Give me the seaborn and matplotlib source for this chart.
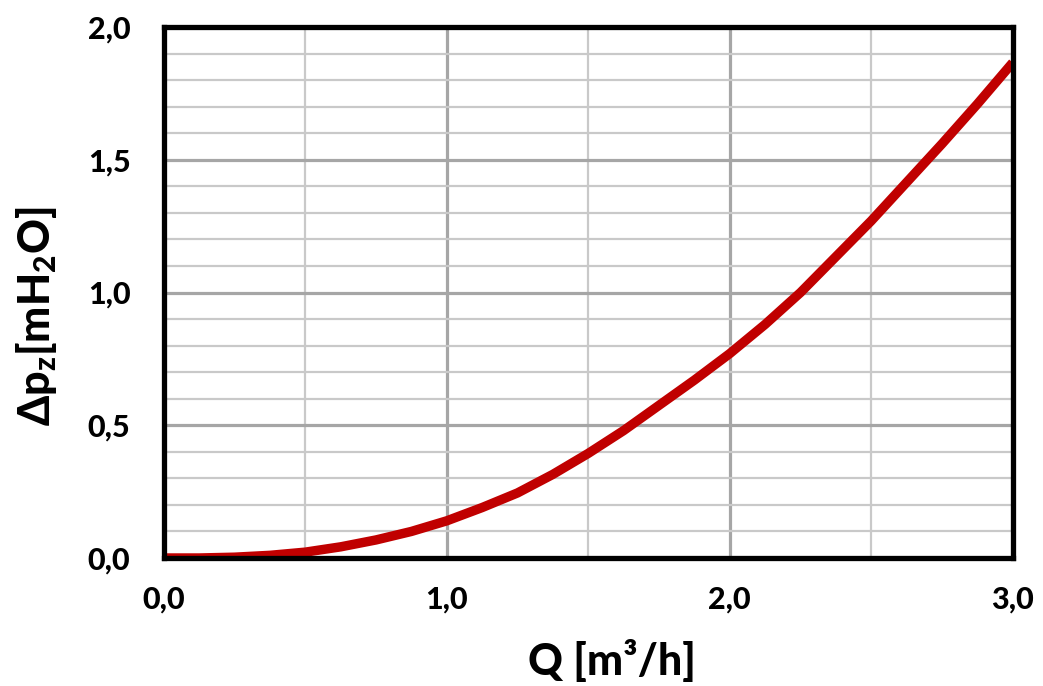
"""
Pressure drop curve: Δp_z vs flow rate Q (Excel-style chart look).
"""

import pandas as pd
import matplotlib
matplotlib.use("Agg")
import matplotlib.pyplot as plt
import seaborn as sns
from matplotlib.ticker import MultipleLocator, FuncFormatter

# Values
flow_q = [0.0, 0.125, 0.25, 0.375, 0.5, 0.625, 0.75, 0.875, 1.0, 1.125, 1.25,
          1.375, 1.5, 1.625, 1.75, 1.875, 2.0, 2.125, 2.25, 2.375, 2.5,
          2.625, 2.75, 2.875, 3.0]
dp_z = [0.0, 0.0, 0.003, 0.01, 0.022, 0.042, 0.068, 0.1, 0.14, 0.19, 0.245,
        0.315, 0.394, 0.48, 0.575, 0.67, 0.77, 0.88, 1.0, 1.135, 1.27,
        1.415, 1.56, 1.71, 1.866]

sns.set_theme(style="white")
plt.rcParams.update({
    "font.family": ["Lato", "DejaVu Sans"],
    "text.color": "black",
    "axes.labelcolor": "black",
    "xtick.color": "black",
    "ytick.color": "black",
    "mathtext.fontset": "custom",
    "mathtext.rm": "Lato:black",
    "mathtext.it": "Lato:black",
    "mathtext.bf": "Lato:black",
})

df = pd.DataFrame({"Q": flow_q, "dp": dp_z})

fig = plt.figure(figsize=(10.43, 6.86), dpi=100)
ax = fig.add_axes([0.157, 0.1866, 0.814, 0.774])

sns.lineplot(data=df, x="Q", y="dp", ax=ax, color="#C00000", linewidth=6.8,
             solid_capstyle="butt", solid_joinstyle="round", zorder=3)

ax.set_xlim(0, 3)
ax.set_ylim(0, 2)

# gridlines: darker major, lighter minor
ax.xaxis.set_major_locator(MultipleLocator(1.0))
ax.xaxis.set_minor_locator(MultipleLocator(0.5))
ax.yaxis.set_major_locator(MultipleLocator(0.5))
ax.yaxis.set_minor_locator(MultipleLocator(0.1))
ax.grid(which="major", color="#A6A6A6", linewidth=2.3, zorder=1)
ax.grid(which="minor", color="#C9C9C9", linewidth=1.6, zorder=1)
ax.set_axisbelow(True)

comma = FuncFormatter(lambda v, p: f"{v:.1f}".replace(".", ","))
ax.xaxis.set_major_formatter(comma)
ax.yaxis.set_major_formatter(comma)
ax.tick_params(which="both", length=0)
ax.tick_params(axis="x", labelsize=22, pad=20)
ax.tick_params(axis="y", labelsize=22, pad=24)
for lbl in ax.get_xticklabels() + ax.get_yticklabels():
    lbl.set_fontweight("black")

for s in ax.spines.values():
    s.set_color("black")
    s.set_linewidth(3.8)
    s.set_capstyle("projecting")
    s.set_zorder(4)

ax.set_xlabel("Q [m³/h]", fontsize=31, fontweight="black", va="center")
ax.set_ylabel("Δp$_z$[mH$_2$O]", fontsize=31, fontweight="black", va="center")
ax.xaxis.set_label_coords(0.528, -0.193)
ax.yaxis.set_label_coords(-0.150, 0.456)

fig.savefig("out.png", dpi=100)
